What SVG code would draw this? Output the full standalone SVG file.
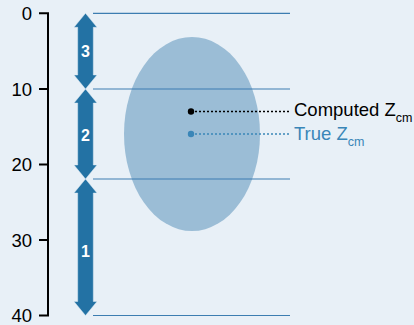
<svg xmlns="http://www.w3.org/2000/svg" width="414" height="325" viewBox="0 0 414 325">
<style>
.bg{fill:#e8f0f7}
.axis{stroke:#000;stroke-width:2;fill:none}
.lbl{font-family:"Liberation Sans",Arial,sans-serif;font-size:18.5px;fill:#000}
.hl{stroke:#3c7db1;stroke-width:1.2}
.arr{fill:#2372a4;stroke:#dbe8f2;stroke-width:0.5}
.num{font-family:"Liberation Sans",Arial,sans-serif;font-size:16px;font-weight:bold;fill:#fff;text-anchor:middle}
.ell{fill:#9bbdd6}
.dotk{stroke:#000;stroke-width:1.5;stroke-dasharray:2,2}
.dotb{stroke:#3a86b8;stroke-width:1.5;stroke-dasharray:2,2}
.sub{font-size:12.5px}
</style>
<rect class="bg" x="0" y="0" width="414" height="325"/>
<g id="axis">
<path class="axis" d="M39,13.3 H48 V315.5 H39 M39,89 H48 M39,164.5 H48 M39,240 H48"/>
<text class="lbl" x="32" y="19.8" text-anchor="end">0</text>
<text class="lbl" x="32" y="95.5" text-anchor="end">10</text>
<text class="lbl" x="32" y="171" text-anchor="end">20</text>
<text class="lbl" x="32" y="246.5" text-anchor="end">30</text>
<text class="lbl" x="32" y="322" text-anchor="end">40</text>
</g>
<g id="ellipse">
<ellipse class="ell" cx="192" cy="134" rx="68" ry="97"/>
</g>
<g id="connectors">
<line class="hl" x1="93" y1="13.3" x2="290" y2="13.3"/>
<line class="hl" x1="93" y1="89" x2="290" y2="89"/>
<line class="hl" x1="93" y1="179" x2="290" y2="179"/>
<line class="hl" x1="93" y1="315.5" x2="290" y2="315.5"/>
<line class="dotk" x1="191" y1="111.5" x2="289" y2="111.5"/>
<line class="dotb" x1="191" y1="134" x2="289" y2="134"/>
</g>
<g id="arrow3">
<path class="arr" d="M85.5,13.3 L97,27.3 L93.3,27.3 L93.3,75 L97,75 L85.5,89 L74,75 L77.7,75 L77.7,27.3 L74,27.3 Z"/>
<text class="num" x="85.5" y="57">3</text>
</g>
<g id="arrow2">
<path class="arr" d="M85.5,89 L97,103 L93.3,103 L93.3,165 L97,165 L85.5,179 L74,165 L77.7,165 L77.7,103 L74,103 Z"/>
<text class="num" x="85.5" y="141">2</text>
</g>
<g id="arrow1">
<path class="arr" d="M85.5,179 L97,193 L93.3,193 L93.3,301.5 L97,301.5 L85.5,315.5 L74,301.5 L77.7,301.5 L77.7,193 L74,193 Z"/>
<text class="num" x="85.5" y="257">1</text>
</g>
<g id="computed">
<circle cx="191" cy="111.5" r="3.2" fill="#000"/>
<text class="lbl" x="294" y="116">Computed Z<tspan class="sub" dy="5.5">cm</tspan></text>
</g>
<g id="true">
<circle cx="191" cy="134" r="3.2" fill="#3a86b8"/>
<text class="lbl" x="294" y="140" style="fill:#3a86b8">True Z<tspan class="sub" dy="5.5">cm</tspan></text>
</g>
</svg>
